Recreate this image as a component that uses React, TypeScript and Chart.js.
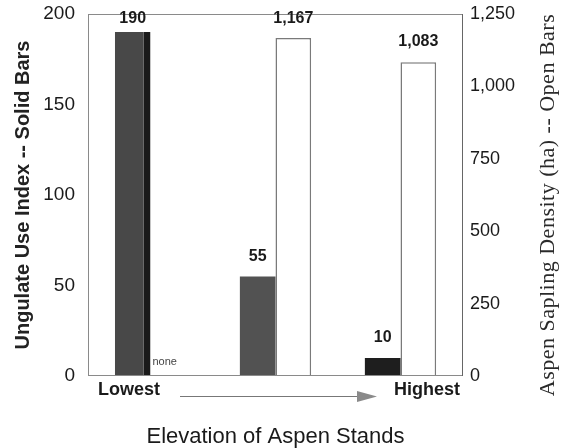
import React, { useEffect, useRef } from 'react';
import { Chart, registerables } from 'chart.js';

Chart.register(...registerables);

const categories = ['Lowest', '', 'Highest'];
const useIndex = [190, 55, 10];
const saplingDensity = [0, 1167, 1083];
const useIndexLabels = ['190', '55', '10'];
const densityLabels = ['none', '1,167', '1,083'];
const leftTicks = [0, 50, 100, 150, 200];
const rightTicks = [0, 250, 500, 750, 1000, 1250];

const SANS = '"Liberation Sans", Arial, sans-serif';
const SERIF = '"Liberation Serif", "Times New Roman", serif';

const decor = {
  id: 'decor',
  afterDatasetsDraw(chart: any) {
    const { ctx, chartArea: a } = chart;
    ctx.save();
    // frame
    ctx.strokeStyle = '#8a8a8a';
    ctx.lineWidth = 1;
    ctx.strokeRect(a.left + 0.5, a.top + 0.5, a.right - a.left - 1, a.bottom - a.top - 1);
    ctx.strokeStyle = '#666';
    ctx.beginPath();
    ctx.moveTo(a.right - 0.5, a.top);
    ctx.lineTo(a.right - 0.5, a.bottom);
    ctx.stroke();

    // value labels
    ctx.fillStyle = '#1a1a1a';
    ctx.textBaseline = 'middle';
    const metaSolid = chart.getDatasetMeta(0);
    const metaOpen = chart.getDatasetMeta(1);
    ctx.font = `bold 16px ${SANS}`;
    ctx.textAlign = 'center';
    metaSolid.data.forEach((bar: any, i: number) => {
      const y = Math.max(bar.y - 20, a.top + 5);
      ctx.fillText(useIndexLabels[i], bar.x, y);
    });
    metaOpen.data.forEach((bar: any, i: number) => {
      if (saplingDensity[i] === 0) {
        ctx.save();
        ctx.font = `11px ${SANS}`;
        ctx.fillStyle = '#444';
        ctx.textAlign = 'left';
        ctx.fillText(densityLabels[i], bar.x - bar.width / 2 + 2, a.bottom - 14);
        ctx.restore();
      } else {
        const y = Math.max(bar.y - 21, a.top + 5);
        ctx.fillText(densityLabels[i], bar.x, y);
      }
    });

    // x-axis end labels and arrow
    const ly = a.bottom + 14;
    ctx.font = `bold 18px ${SANS}`;
    ctx.fillStyle = '#1a1a1a';
    ctx.textAlign = 'left';
    const lx = a.left + 10;
    ctx.fillText(categories[0], lx, ly);
    const lw = ctx.measureText(categories[0]).width;
    ctx.textAlign = 'right';
    const hx = a.right - 3;
    ctx.fillText(categories[2], hx, ly);
    const hw = ctx.measureText(categories[2]).width;
    const ay = a.bottom + 20;
    const x0 = lx + lw + 20;
    const tip = hx - hw - 17;
    const base = tip - 20;
    ctx.strokeStyle = '#777';
    ctx.lineWidth = 1;
    ctx.beginPath();
    ctx.moveTo(x0, ay + 0.5);
    ctx.lineTo(base, ay + 0.5);
    ctx.stroke();
    ctx.fillStyle = '#8a8a8a';
    ctx.beginPath();
    ctx.moveTo(base, ay - 5);
    ctx.lineTo(tip, ay + 0.5);
    ctx.lineTo(base, ay + 6);
    ctx.closePath();
    ctx.fill();

    // right axis title (reads bottom to top)
    ctx.translate(548, 205);
    ctx.rotate(-Math.PI / 2);
    ctx.font = `22px ${SERIF}`;
    (ctx as any).letterSpacing = '0.5px';
    ctx.fillStyle = '#2a2a2a';
    ctx.textAlign = 'center';
    ctx.textBaseline = 'middle';
    ctx.fillText('Aspen Sapling Density (ha) -- Open Bars', 0, 0);
    ctx.restore();
  },
};

export default function App() {
  const ref = useRef<HTMLCanvasElement | null>(null);
  useEffect(() => {
    if (!ref.current) return;
    const chart = new Chart(ref.current, {
      type: 'bar',
      data: {
        labels: categories,
        datasets: [
          {
            label: 'Ungulate Use Index',
            data: useIndex,
            yAxisID: 'y',
            backgroundColor: ['#484848', '#525252', '#1e1e1e'],
            borderColor: ['#1a1a1a', '#1a1a1a', '#1a1a1a'],
            borderWidth: [{ top: 0, left: 0, bottom: 0, right: 7 }, 0, 0] as any,
            borderSkipped: false,
            categoryPercentage: 0.57,
            barPercentage: 1.0,
          },
          {
            label: 'Aspen Sapling Density',
            data: saplingDensity,
            yAxisID: 'y1',
            backgroundColor: '#ffffff',
            borderColor: '#7a7a7a',
            borderWidth: 1.5,
            borderSkipped: 'bottom',
            categoryPercentage: 0.57,
            barPercentage: 1.0,
          },
        ],
      },
      options: {
        responsive: false,
        animation: false,
        layout: { padding: { top: 14, left: 0, right: 0, bottom: 0 } },
        plugins: { legend: { display: false }, tooltip: { enabled: false } },
        scales: {
          x: {
            grid: { display: false, drawTicks: false },
            border: { display: false },
            ticks: { display: false },
            title: {
              display: true,
              text: 'Elevation of Aspen Stands',
              color: '#1a1a1a',
              font: { family: SANS, size: 22, lineHeight: 1 },
              padding: { top: 0, bottom: 0 },
            },
            afterFit: (s: any) => { s.height = 72; s.paddingLeft = 0; s.paddingRight = 0; },
          },
          y: {
            position: 'left',
            min: 0,
            max: 200,
            grid: { display: false, drawTicks: false },
            border: { display: false },
            afterBuildTicks: (s: any) => { s.ticks = leftTicks.map((v) => ({ value: v })); },
            ticks: {
              color: '#1a1a1a',
              padding: 13,
              font: { family: SANS, size: 19 },
              callback: (v: any) => String(v),
            },
            title: {
              display: true,
              text: 'Ungulate Use Index -- Solid Bars',
              color: '#222',
              font: { family: SANS, size: 20, weight: 'bold', lineHeight: 1.2 },
              padding: { top: 11, bottom: 0 },
            },
            afterFit: (s: any) => { s.width = 88; s.paddingTop = 0; s.paddingBottom = 0; },
          },
          y1: {
            position: 'right',
            min: 0,
            max: 1250,
            grid: { display: false, drawTicks: false },
            border: { display: false },
            afterBuildTicks: (s: any) => { s.ticks = rightTicks.map((v) => ({ value: v })); },
            ticks: {
              color: '#1a1a1a',
              padding: 7,
              font: { family: SANS, size: 18 },
              callback: (v: any) => Number(v).toLocaleString('en-US'),
            },
            afterFit: (s: any) => { s.width = 102; s.paddingTop = 0; s.paddingBottom = 0; },
          },
        },
      },
      plugins: [decor],
    } as any);
    return () => chart.destroy();
  }, []);
  return (
    <div style={{ position: 'fixed', left: 0, top: 0, width: 565, height: 448, background: '#fff' }}>
      <canvas ref={ref} width={565} height={448} style={{ display: 'block' }} />
    </div>
  );
}
